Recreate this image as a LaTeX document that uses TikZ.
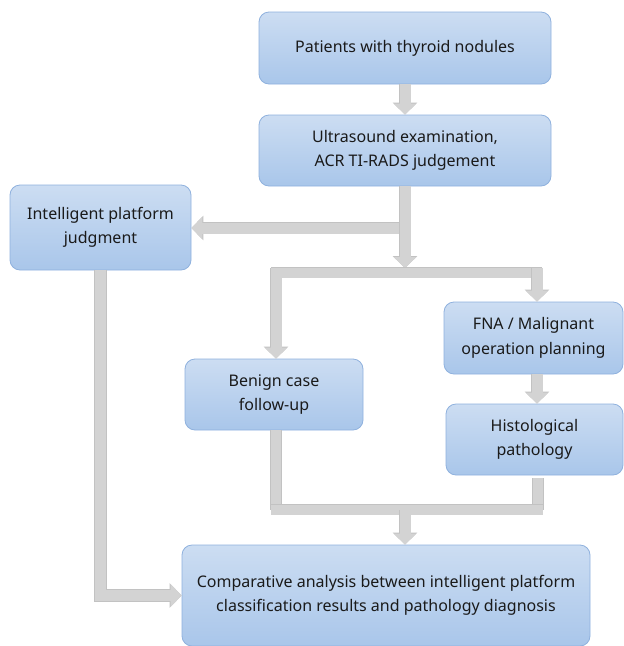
\documentclass[tikz,border=0pt]{standalone}
\usepackage{fontspec}
\setmainfont{Noto Sans}
\usetikzlibrary{arrows.meta,calc}
\definecolor{boxtop}{HTML}{CCDDF2}
\definecolor{boxbot}{HTML}{A9C6EA}
\definecolor{boxline}{HTML}{8FB1DE}
\definecolor{arrfill}{HTML}{D3D3D3}
\definecolor{arredge}{HTML}{C2C2C2}
\definecolor{txt}{HTML}{1A1A1A}
\begin{document}
\begin{tikzpicture}[x=1pt,y=-1pt,
 box/.style={draw=boxline, line width=0.8pt, rounded corners=10pt, top color=boxtop, bottom color=boxbot, align=center, font=\fontsize{16}{24.5}\selectfont, text=txt, inner sep=0pt},
 flow/.style={draw=arrfill, line width=11pt, -{Triangle[width=22pt,length=11pt]},
   preaction={draw=arredge, line width=12.4pt, -{Triangle[width=24pt,length=12pt]}}},
 bar/.style={draw=arrfill, line width=10pt, preaction={draw=arredge, line width=11.4pt}}]
\useasboundingbox (0,0) rectangle (624,646);
\node[box, minimum width=292pt, minimum height=72pt] (p) at (405,48) {Patients with thyroid nodules};
\node[box, minimum width=292pt, minimum height=71pt] (u) at (405,150.5) {Ultrasound examination,\\ACR TI-RADS judgement};
\node[box, minimum width=181pt, minimum height=85pt] (i) at (100.5,227.5) {Intelligent platform\\judgment};
\node[box, minimum width=179pt, minimum height=72pt] (f) at (533.5,338) {FNA / Malignant\\operation planning};
\node[box, minimum width=178pt, minimum height=71pt] (b) at (274,394.5) {Benign case\\follow-up};
\node[box, minimum width=177pt, minimum height=71pt] (h) at (534.5,439.5) {Histological\\pathology};
\node[box, minimum width=408pt, minimum height=101pt] (c) at (386,595.5) {Comparative analysis between intelligent platform\\classification results and pathology diagnosis};
\coordinate (colL) at (276,0);
\coordinate (colM) at (405,0);
\coordinate (colR) at (537,0);
\coordinate (j0) at (405,268);
\coordinate (j1) at (405,272.5);
\coordinate (j2) at (405,228);
\coordinate (m1) at (405,509.5);
\coordinate (hs) at (538,478);
% arrows
\draw[flow] (p.south) -- (u.north);
\draw[flow] (j2) -- (j2 -| i.east);
\draw[flow] (u.south) -- (j0);
\draw[bar] ($(j1)+(-134,0)$) -- ($(j1)+(137,0)$);
\draw[flow] (colL |- j0) -- (colL |- b.north);
\draw[flow] (colR |- j0) -- (colR |- f.north);
\draw[flow] (colR |- f.south) -- (colR |- h.north);
\draw[bar] (colL |- b.south) -- (colL |- m1);
\draw[bar] (hs) -- (hs |- m1);
\draw[bar] ($(colL |- m1)+(-5.5,0)$) -- ($(hs |- m1)+(5,0)$);
\draw[flow] (m1) -- (colM |- c.north);
\draw[flow] (i.south) |- (c.west);
\end{tikzpicture}
\end{document}
